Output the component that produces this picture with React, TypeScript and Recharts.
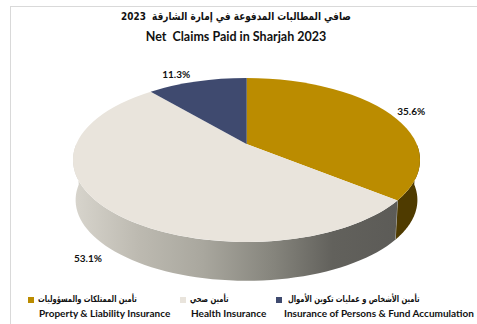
import { Legend, Pie, PieChart } from 'recharts';

const arabicNames = ['تأمين الممتلكات والمسؤوليات', 'تأمين صحي', 'تأمين الأشخاص و عمليات تكوين الأموال'];
const englishNames = ['Property & Liability Insurance', 'Health Insurance', 'Insurance of Persons & Fund Accumulation'];
const shares = [35.6, 53.1, 11.3];
const topColors = ['#bb8c00', '#e9e4dc', '#3f4a6f'];
const wallColors = ['#4f3b00', 'url(#healthWall)', '#2a3350'];

// how far each % label sits from the middle of its rim, picture pixels
const labelNudge = [
  [24, -1],
  [-23, 47],
  [-21, -7],
];
const legendLeft = [28, 180, 276];
const arabicRight = [137, 229, 420];
const englishLeft = [39, 191, 284];

const rows = shares.map((value, i) => ({ name: arabicNames[i], value, fill: topColors[i] }));
const wallRows = shares.map((value, i) => ({ name: arabicNames[i], value, fill: wallColors[i] }));

const SQUASH = 82 / 173.5;
const HUB_LIFT = 16; // the hub sits above the ellipse centre on a tilted disc
const DEPTH = 40;
const WARP = 11; // degrees

const rad = (d: number) => (d * Math.PI) / 180;
const warp = (clock: number) => clock - WARP * Math.sin(rad(clock));

// clock = degrees clockwise from 12 o'clock, as on the disc
function rim(cx: number, cy: number, r: number, clock: number) {
  const t = rad(warp(clock));
  return [cx + r * Math.sin(t), cy - r * SQUASH * Math.cos(t)];
}

function TopSector(props: any) {
  const { cx, cy, outerRadius: r, startAngle, endAngle, fill, index } = props;
  const from = 90 - startAngle;
  const to = 90 - endAngle;
  const hubY = cy - HUB_LIFT;
  const a = rim(cx, cy, r, from);
  const b = rim(cx, cy, r, to);
  const large = warp(to) - warp(from) > 180 ? 1 : 0;
  const d = `M${cx},${hubY}L${a[0]},${a[1]}A${r},${r * SQUASH} 0 ${large} 1 ${b[0]},${b[1]}Z`;
  return (
    <g>
      <path d={d} fill={fill} />
      {index === 0 && <line x1={cx} y1={hubY} x2={a[0]} y2={a[1]} stroke="#8d8c86" strokeWidth={0.7} />}
    </g>
  );
}

function WallSector(props: any) {
  const { cx, cy, outerRadius: r, startAngle, endAngle, fill, index } = props;
  const from = Math.max(90 - startAngle, 90);
  const to = Math.min(90 - endAngle, 270);
  if (to <= from) return null;
  const top: string[] = [];
  const bottom: string[] = [];
  for (let c = from; c <= to + 0.001; c += (to - from) / 60) {
    const p = rim(cx, cy, r, c);
    const q = rim(cx, cy + DEPTH, r * 0.985, c);
    top.push(`${p[0]},${p[1]}`);
    bottom.unshift(`${q[0]},${q[1]}`);
  }
  const e = rim(cx, cy, r, to);
  const f = rim(cx, cy + DEPTH, r * 0.985, to);
  return (
    <g>
      <path d={`M${top.join('L')}L${bottom.join('L')}Z`} fill={fill} />
      {index === 0 && <line x1={e[0]} y1={e[1]} x2={f[0]} y2={f[1]} stroke="#b9b8b0" strokeWidth={1} />}
    </g>
  );
}

function ShareLabel(props: any) {
  const { cx, cy, outerRadius: r, midAngle, value, index } = props;
  const p = rim(cx, cy, r, 90 - midAngle);
  return (
    <text
      x={p[0] + labelNudge[index][0]}
      y={p[1] + labelNudge[index][1]}
      textAnchor="middle"
      dominantBaseline="central"
      fontFamily="Lato"
      fontWeight={700}
      fontSize={10}
      fill="#111"
    >
      {value.toFixed(1)}%
    </text>
  );
}

function LegendRows(props: any) {
  // the wall pie also lands in the payload, it has no legend entry of its own
  const items = (props.payload || []).filter((item: any) => item.type !== 'none');
  return (
    <div style={{ position: 'relative', width: 477, height: 324, fontWeight: 700 }}>
      {items.map((item: any, i: number) => (
        <div key={item.value}>
          <div
            style={{
              position: 'absolute',
              left: legendLeft[i],
              top: 297,
              width: 6,
              height: 6,
              background: topColors[i],
            }}
          />
          <div
            dir="rtl"
            style={{
              position: 'absolute',
              right: 477 - arabicRight[i],
              top: 293,
              fontFamily: 'DejaVu Sans',
              fontSize: 9,
              lineHeight: '13px',
              whiteSpace: 'nowrap',
              color: '#111',
              transform: 'scaleX(0.75)',
              transformOrigin: 'right center',
            }}
          >
            {item.value}
          </div>
          <div
            style={{
              position: 'absolute',
              left: englishLeft[i],
              top: 306,
              fontFamily: 'Lato',
              fontSize: 10,
              lineHeight: '14px',
              whiteSpace: 'nowrap',
              color: '#111',
            }}
          >
            {englishNames[i]}
          </div>
        </div>
      ))}
    </div>
  );
}

export default function App() {
  return (
    <div style={{ position: 'absolute', left: 0, top: 0, width: 477, height: 324, overflow: 'hidden', background: '#fff' }}>
      <div style={{ position: 'absolute', left: 10, top: 6, width: 467, height: 318, borderLeft: '1px solid #d9d9d9', borderTop: '1px solid #d9d9d9', boxSizing: 'border-box' }} />
      <div
        dir="rtl"
        style={{ position: 'absolute', left: 0, width: 472, top: 8, textAlign: 'center', fontFamily: 'DejaVu Sans', fontWeight: 700, fontSize: 11, lineHeight: '18px', color: '#111', whiteSpace: 'pre', transform: 'scaleX(0.81)' }}
      >
        صافي المطالبات المدفوعة في إمارة الشارقة  2023
      </div>
      <div style={{ position: 'absolute', left: 0, width: 472, top: 28, textAlign: 'center', fontFamily: 'Lato', fontWeight: 700, fontSize: 12.5, lineHeight: '18px', color: '#111', whiteSpace: 'pre' }}>
        Net  Claims Paid in Sharjah 2023
      </div>
      <PieChart width={477} height={324} margin={{ top: 0, right: 0, bottom: 0, left: 0 }} style={{ position: 'absolute', left: 0, top: 0 }}>
        <defs>
          <linearGradient id="healthWall" x1="0" y1="0" x2="1" y2="0">
            <stop offset="0" stopColor="#d8d5cd" />
            <stop offset="0.2" stopColor="#bdbab1" />
            <stop offset="0.4" stopColor="#a9a79e" />
            <stop offset="0.62" stopColor="#85847c" />
            <stop offset="0.8" stopColor="#62615c" />
            <stop offset="1" stopColor="#5c5b57" />
          </linearGradient>
        </defs>
        <Pie
          data={wallRows}
          dataKey="value"
          nameKey="name"
          cx={246.5}
          cy={160}
          outerRadius={173.5}
          startAngle={90}
          endAngle={-270}
          stroke="none"
          legendType="none"
          shape={WallSector}
          isAnimationActive={false}
        />
        <Pie
          data={rows}
          dataKey="value"
          nameKey="name"
          cx={246.5}
          cy={160}
          outerRadius={173.5}
          startAngle={90}
          endAngle={-270}
          stroke="none"
          shape={TopSector}
          label={ShareLabel}
          labelLine={false}
          isAnimationActive={false}
        />
        <Legend itemSorter={null} content={LegendRows} wrapperStyle={{ position: 'absolute', left: 0, top: 0, width: 477, height: 324, bottom: 'auto' }} />
      </PieChart>
    </div>
  );
}
